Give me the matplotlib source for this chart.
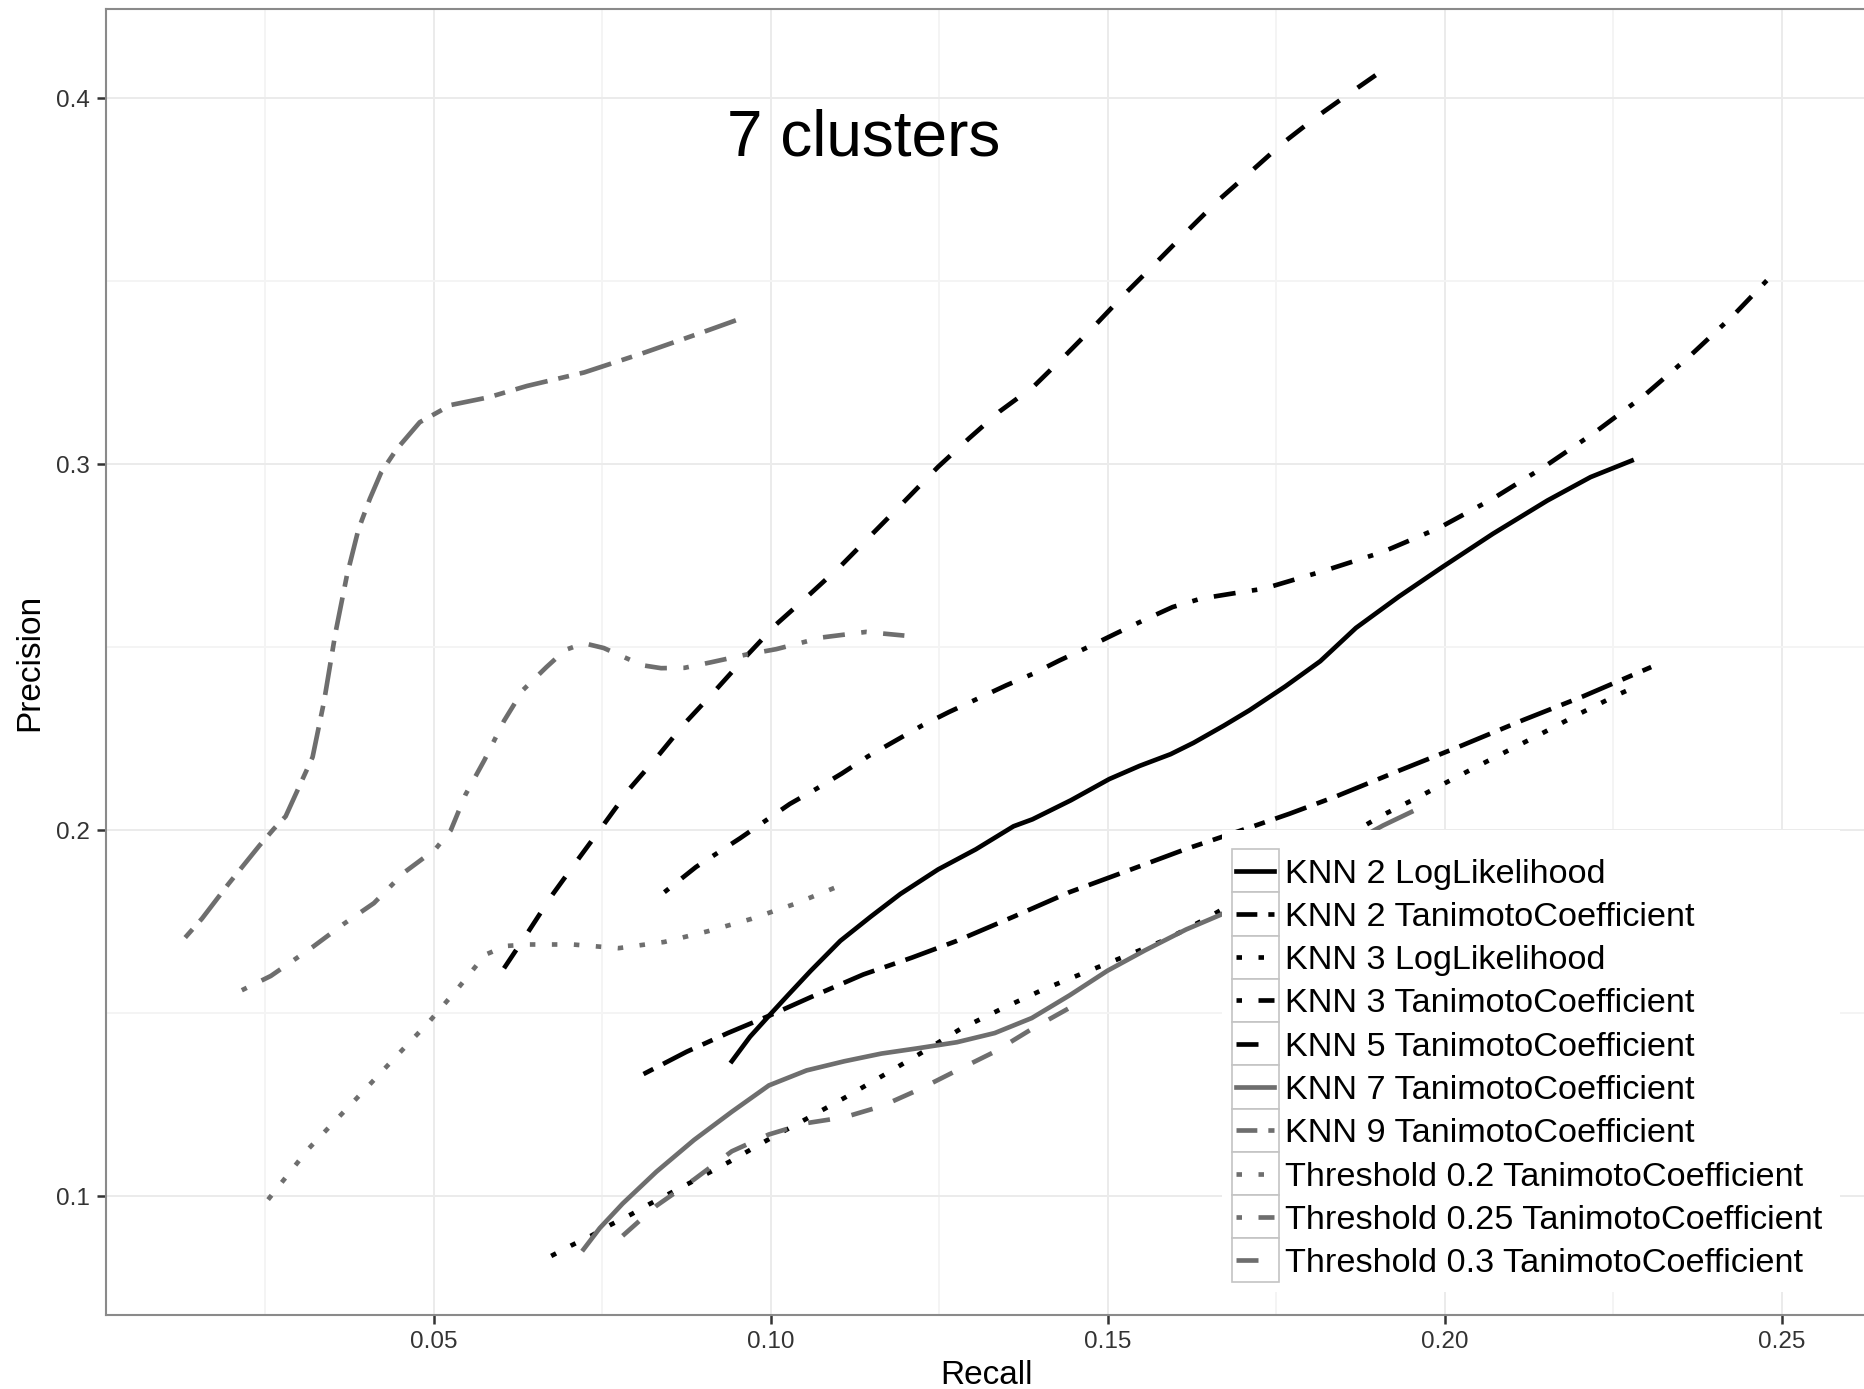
import matplotlib
matplotlib.use('Agg')
import matplotlib.pyplot as plt
from matplotlib.patches import Rectangle
from matplotlib.lines import Line2D

# Data (recall, precision)

knn2_ll_x = [0.0942, 0.0969, 0.0997, 0.1025, 0.1059, 0.1103, 0.1148, 0.1192, 0.1248, 0.1304,
             0.1360, 0.1388, 0.1445, 0.1502, 0.1547, 0.1593, 0.1627, 0.1672, 0.1710, 0.1763,
             0.1815, 0.1868, 0.1932, 0.1996, 0.2071, 0.2152, 0.2216, 0.2277]
knn2_ll_y = [0.1369, 0.1436, 0.1493, 0.1549, 0.1616, 0.1698, 0.1764, 0.1826, 0.1893, 0.1948,
             0.2011, 0.2030, 0.2082, 0.2140, 0.2176, 0.2208, 0.2239, 0.2286, 0.2328, 0.2393,
             0.2462, 0.2553, 0.2639, 0.2719, 0.2810, 0.2901, 0.2965, 0.3010]

knn2_tc_x = [0.0811, 0.0875, 0.0936, 0.0997, 0.1059, 0.1137, 0.1209, 0.1276, 0.1360, 0.1443,
             0.1527, 0.1616, 0.1711, 0.1769, 0.1839, 0.1932, 0.2019, 0.2117, 0.2205, 0.2306]
knn2_tc_y = [0.1334, 0.1395, 0.1446, 0.1493, 0.1544, 0.1606, 0.1652, 0.1698, 0.1764, 0.1831,
             0.1888, 0.1949, 0.2008, 0.2045, 0.2093, 0.2163, 0.2227, 0.2302, 0.2366, 0.2446]

knn3_ll_x = [0.0674, 0.0703, 0.0734, 0.0763, 0.0793, 0.0819, 0.0850, 0.0880, 0.0939, 0.0995,
             0.1053, 0.1112, 0.1170, 0.1226, 0.1281, 0.1343, 0.1404, 0.1465, 0.1527, 0.1588,
             0.1650, 0.1906, 0.1963, 0.2022, 0.2080, 0.2141, 0.2199, 0.2257, 0.2290]
knn3_ll_y = [0.0837, 0.0865, 0.0893, 0.0923, 0.0951, 0.0978, 0.1008, 0.1037, 0.1095, 0.1154,
             0.1212, 0.1272, 0.1334, 0.1395, 0.1457, 0.1513, 0.1565, 0.1611, 0.1657, 0.1703,
             0.1763, 0.2040, 0.2093, 0.2150, 0.2205, 0.2262, 0.2318, 0.2371, 0.2398]

knn3_tc_x = [0.0842, 0.0889, 0.0954, 0.0991, 0.1028, 0.1068, 0.1105, 0.1144, 0.1184, 0.1224,
             0.1264, 0.1306, 0.1349, 0.1388, 0.1428, 0.1471, 0.1511, 0.1553, 0.1596, 0.1638,
             0.1695, 0.1731, 0.1819, 0.1907, 0.1991, 0.2071, 0.2148, 0.2223, 0.2295, 0.2364,
             0.2429, 0.2492]
knn3_tc_y = [0.1831, 0.1900, 0.1978, 0.2025, 0.2072, 0.2114, 0.2155, 0.2202, 0.2244, 0.2286,
             0.2323, 0.2359, 0.2396, 0.2427, 0.2464, 0.2501, 0.2537, 0.2574, 0.2610, 0.2633,
             0.2650, 0.2660, 0.2708, 0.2760, 0.2826, 0.2906, 0.2994, 0.3088, 0.3187, 0.3297,
             0.3409, 0.3530]

knn5_tc_x = [0.0604, 0.0638, 0.0675, 0.0712, 0.0752, 0.0791, 0.0831, 0.0872, 0.0914, 0.0960,
             0.1008, 0.1053, 0.1105, 0.1150, 0.1195, 0.1248, 0.1294, 0.1339, 0.1390, 0.1436,
             0.1481, 0.1527, 0.1572, 0.1617, 0.1663, 0.1714, 0.1759, 0.1810, 0.1862, 0.1915]
knn5_tc_y = [0.1623, 0.1717, 0.1822, 0.1916, 0.2016, 0.2115, 0.2200, 0.2292, 0.2375, 0.2469,
             0.2563, 0.2637, 0.2725, 0.2809, 0.2893, 0.2993, 0.3071, 0.3144, 0.3213, 0.3296,
             0.3380, 0.3469, 0.3552, 0.3636, 0.3720, 0.3803, 0.3877, 0.3950, 0.4018, 0.4086]

knn7_tc_x = [0.0722, 0.0746, 0.0780, 0.0830, 0.0886, 0.0942, 0.0997, 0.1053, 0.1109, 0.1164,
             0.1220, 0.1276, 0.1332, 0.1387, 0.1443, 0.1499, 0.1555, 0.1616, 0.1667, 0.1908,
             0.1950]
knn7_tc_y = [0.0855, 0.0913, 0.0980, 0.1067, 0.1154, 0.1231, 0.1303, 0.1344, 0.1369, 0.1390,
             0.1405, 0.1421, 0.1446, 0.1487, 0.1549, 0.1616, 0.1672, 0.1729, 0.1769, 0.2013,
             0.2050]

knn9_tc_x = [0.0131, 0.0156, 0.0195, 0.0241, 0.0263, 0.0280, 0.0320, 0.0337, 0.0354, 0.0371,
             0.0388, 0.0405, 0.0422, 0.0445, 0.0479, 0.0525, 0.0581, 0.0638, 0.0723, 0.0809,
             0.0899, 0.0961]
knn9_tc_y = [0.1707, 0.1759, 0.1853, 0.1958, 0.2005, 0.2038, 0.2200, 0.2352, 0.2540, 0.2697,
             0.2822, 0.2906, 0.2979, 0.3042, 0.3115, 0.3162, 0.3183, 0.3214, 0.3251, 0.3303,
             0.3361, 0.3402]

thr20_x = [0.0254, 0.0314, 0.0383, 0.0448, 0.0493, 0.0536, 0.0576, 0.0607, 0.0641, 0.0706,
           0.0774, 0.0842, 0.0906, 0.0971, 0.1034, 0.1096]
thr20_y = [0.0991, 0.1130, 0.1263, 0.1390, 0.1477, 0.1569, 0.1660, 0.1684, 0.1688, 0.1688,
           0.1678, 0.1695, 0.1724, 0.1758, 0.1798, 0.1844]

thr25_x = [0.0215, 0.0258, 0.0320, 0.0366, 0.0411, 0.0456, 0.0502, 0.0525, 0.0547, 0.0575,
           0.0604, 0.0632, 0.0667, 0.0695, 0.0723, 0.0752, 0.0809, 0.0837, 0.0872, 0.0911,
           0.0963, 0.1008, 0.1076, 0.1141, 0.1198]
thr25_y = [0.1563, 0.1602, 0.1681, 0.1744, 0.1801, 0.1885, 0.1948, 0.2000, 0.2098, 0.2192,
           0.2299, 0.2383, 0.2446, 0.2493, 0.2511, 0.2498, 0.2451, 0.2443, 0.2444, 0.2459,
           0.2480, 0.2495, 0.2527, 0.2542, 0.2532]

thr30_x = [0.0780, 0.0830, 0.0886, 0.0942, 0.0997, 0.1053, 0.1109, 0.1164, 0.1220, 0.1276,
           0.1332, 0.1387, 0.1451]
thr30_y = [0.0892, 0.0974, 0.1046, 0.1123, 0.1169, 0.1200, 0.1216, 0.1246, 0.1292, 0.1344,
           0.1395, 0.1457, 0.1523]

labels = ['KNN 2 LogLikelihood', 'KNN 2 TanimotoCoefficient', 'KNN 3 LogLikelihood',
          'KNN 3 TanimotoCoefficient', 'KNN 5 TanimotoCoefficient', 'KNN 7 TanimotoCoefficient',
          'KNN 9 TanimotoCoefficient', 'Threshold 0.2 TanimotoCoefficient',
          'Threshold 0.25 TanimotoCoefficient', 'Threshold 0.3 TanimotoCoefficient']

series = [(knn2_ll_x, knn2_ll_y), (knn2_tc_x, knn2_tc_y), (knn3_ll_x, knn3_ll_y),
          (knn3_tc_x, knn3_tc_y), (knn5_tc_x, knn5_tc_y), (knn7_tc_x, knn7_tc_y),
          (knn9_tc_x, knn9_tc_y), (thr20_x, thr20_y), (thr25_x, thr25_y), (thr30_x, thr30_y)]

x_ticks = [0.05, 0.10, 0.15, 0.20, 0.25]
y_ticks = [0.1, 0.2, 0.3, 0.4]

# Styles (ggplot-like linetypes, dash unit in points)

plt.rcParams['font.family'] = ['Liberation Sans', 'DejaVu Sans']
plt.rcParams['lines.scale_dashes'] = False

u = 3.96
styles = {'solid': '-',
          'twodash': (0, (2*u, 2*u, 6*u, 2*u)),
          'dotted': (0, (1*u, 3*u)),
          'dotdash': (0, (1*u, 3*u, 4*u, 3*u)),
          'dashed': (0, (4*u, 4*u))}
kinds = ['solid', 'twodash', 'dotted', 'dotdash', 'dashed']
black, grey = '#000000', '#6e6e6e'
colors = [black] * 5 + [grey] * 5
types = kinds + kinds
lw = 3.35

# Figure and panel (pixel layout of the reference)

W, H = 1864, 1389
fig = plt.figure(figsize=(W / 100, H / 100), dpi=100)
AX_L, AX_R, AX_T, AX_B = 106, 1866.2, 9, 1315.4
ax = fig.add_axes([AX_L / W, (H - AX_B) / H, (AX_R - AX_L) / W, (AX_B - AX_T) / H])
ax.set_xlim(0.00135, 0.2625)
ax.set_ylim(0.06746, 0.4244)

ax.set_xticks(x_ticks)
ax.set_xticklabels(['%.2f' % v for v in x_ticks])
ax.set_yticks(y_ticks)
ax.set_yticklabels(['%.1f' % v for v in y_ticks])
ax.set_xticks([0.025, 0.075, 0.125, 0.175, 0.225], minor=True)
ax.set_yticks([0.15, 0.25, 0.35], minor=True)
ax.grid(which='major', color='#ebebeb', lw=1.4, zorder=0)
ax.grid(which='minor', color='#f4f4f4', lw=1.4, zorder=0)
ax.set_axisbelow(True)
ax.tick_params(which='major', length=6.5, width=1.8, color='#333333',
               labelsize=17.5, labelcolor='#333333', pad=5)
ax.tick_params(which='minor', length=0)
for s in ax.spines.values():
    s.set_color('#8a8a8a')
    s.set_linewidth(1.5)

ax.set_xlabel('Recall', fontsize=24, labelpad=5)
ax.set_ylabel('Precision', fontsize=24, labelpad=8)

# Plot lines

for i, (xs, ys) in enumerate(series):
    ax.plot(xs, ys, color=colors[i], ls=styles[types[i]], lw=lw, zorder=3 + i * 0.01)

ax.text(0.1138, 0.3845, '7 clusters', ha='center', va='baseline', fontsize=46)

# Legend drawn by hand (white box, grey-bordered keys)

def af(X, Y):
    return (X - AX_L) / (AX_R - AX_L), (AX_B - Y) / (AX_B - AX_T)

x0, y0 = af(1222, 1292)
x1, y1 = af(1840, 830)
ax.add_patch(Rectangle((x0, y0), x1 - x0, y1 - y0, transform=ax.transAxes,
                       facecolor='white', edgecolor='none', zorder=10, clip_on=False))
row_top, row_h = 849, 43.27
key_offsets = {'solid': 0, 'twodash': 24.6, 'dotted': 0, 'dotdash': 0, 'dashed': 0}
for i, lab in enumerate(labels):
    top = row_top + i * row_h
    kx0, ky0 = af(1232, top + row_h)
    kx1, ky1 = af(1279, top)
    ax.add_patch(Rectangle((kx0, ky0), kx1 - kx0, ky1 - ky0, transform=ax.transAxes,
                           facecolor='white', edgecolor='#c4c4c4', lw=1.2, zorder=11, clip_on=False))
    lx0, ly = af(1236, top + row_h / 2)
    lx1, _ = af(1274, top + row_h / 2)
    st = styles[types[i]]
    if st != '-':
        st = (key_offsets[types[i]], st[1])
    ax.add_line(Line2D([lx0, lx1], [ly, ly], transform=ax.transAxes, color=colors[i],
                       ls=st, lw=lw, zorder=12, clip_on=False))
    tx, _ = af(1285, 0)
    ax.text(tx, ly, lab, transform=ax.transAxes, fontsize=24.7, va='center_baseline',
            ha='left', zorder=12)

fig.savefig('out.png', dpi=100)
